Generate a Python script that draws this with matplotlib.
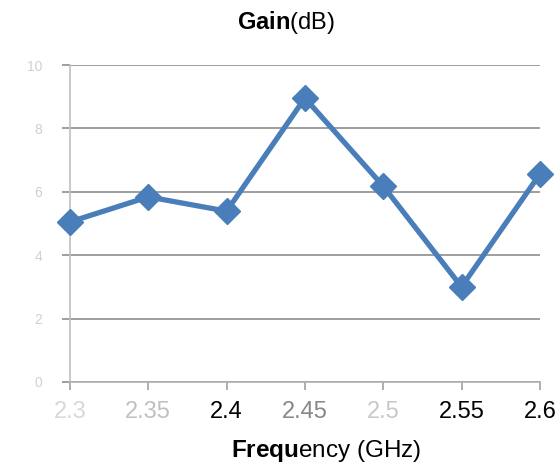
import matplotlib
matplotlib.use('Agg')
from matplotlib import pyplot as plt
import numpy as np

plt.rcParams['font.family'] = ['Liberation Sans', 'DejaVu Sans']
plt.rcParams['mathtext.fontset'] = 'custom'
plt.rcParams['mathtext.rm'] = 'Liberation Sans'
plt.rcParams['mathtext.bf'] = 'Liberation Sans:bold'

# gain vs frequency
freq_labels = ['2.3', '2.35', '2.4', '2.45', '2.5', '2.55', '2.6']
gain_db = [5.05, 5.84, 5.39, 8.96, 6.18, 3.0, 6.56]
y_ticks = [0, 2, 4, 6, 8, 10]

blue = '#4a7ebb'
grid_col = '#9e9e9e'
# the scan lost most of these labels, keep the faded ones grey
xlab_cols = ['#d8d8d8', '#c0c0c0', 'black', '#888888', '#c8c8c8', 'black', 'black']

fig = plt.figure(figsize=(5.6, 4.72), dpi=100)
fig.set_facecolor('white')
ax = fig.add_axes([0.125, 0.191, 0.839, 0.671])

x = np.arange(len(freq_labels))
ax.plot(x, gain_db, color=blue, linewidth=3.8, marker='D', markersize=13,
        markerfacecolor=blue, markeredgecolor=blue, zorder=3, clip_on=False)

ax.set_xlim(0, len(freq_labels) - 1)
ax.set_ylim(0, 10)
ax.set_yticks(y_ticks)
ax.set_yticklabels([str(v) for v in y_ticks], fontsize=10)
ax.set_xticks(x)
ax.set_xticklabels(freq_labels, fontsize=17)

ax.grid(True, axis='y', color=grid_col, linewidth=1.4)
ax.set_axisbelow(True)
for s in ['top', 'right']:
    ax.spines[s].set_visible(False)
ax.spines['left'].set_color('#c0c0c0')
ax.spines['bottom'].set_color('#b0b0b0')
ax.spines['left'].set_linewidth(1.2)
ax.spines['bottom'].set_linewidth(1.2)
ax.tick_params(axis='x', color='#a0a0a0', length=6, width=1.2, pad=8)
ax.tick_params(axis='y', color=grid_col, length=6, width=1.4, pad=14)
for lbl, c in zip(ax.get_xticklabels(), xlab_cols):
    lbl.set_color(c)
for lbl in ax.get_yticklabels():
    lbl.set_color('#d0d0d0')

fig.text(0.511, 0.953, r'$\bf{Gain}$(dB)', ha='center', va='center', fontsize=17)
fig.text(0.582, 0.045, r'$\bf{Frequ}$ency (GHz)', ha='center', va='center', fontsize=17.5)

fig.savefig('out.png', dpi=100, facecolor='white')
